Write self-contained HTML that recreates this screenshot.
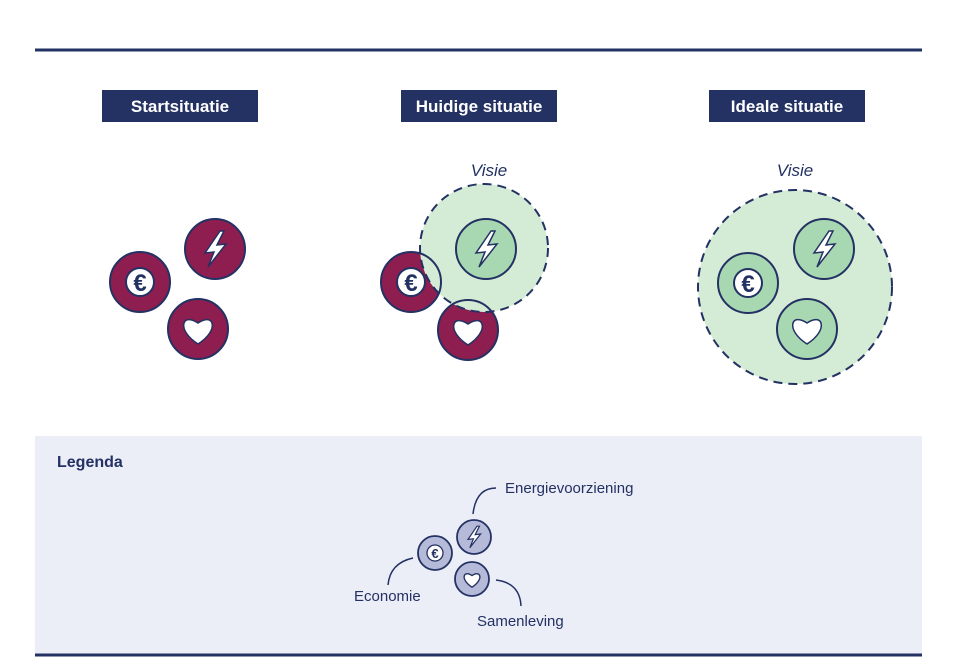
<!DOCTYPE html>
<html><head><meta charset="utf-8"><style>
body{margin:0;background:#fff;}
svg{display:block;font-family:"Liberation Sans",sans-serif;}
</style></head><body>
<svg width="956" height="670" viewBox="0 0 956 670">
<defs>
<path id="bolt" d="M5,-18 L-10,4 L-1,3 L-7,18 L11,-5 L2,-4 L9,-18 Z"/>
<path id="heart" d="M0,13 C-22,-1 -16,-19 0,-8 C16,-19 22,-1 0,13 Z"/>
</defs>
<line x1="35" y1="50" x2="922" y2="50" stroke="#233163" stroke-width="3"/>
<rect x="35" y="436" width="887" height="219" fill="#ebedf7"/>
<line x1="35" y1="655" x2="922" y2="655" stroke="#233163" stroke-width="3"/>

<g font-weight="bold" font-size="17" fill="#fff" text-anchor="middle">
<rect x="102" y="90" width="156" height="32" fill="#233163"/>
<text x="180" y="112">Startsituatie</text>
<rect x="401" y="90" width="156" height="32" fill="#233163"/>
<text x="479" y="112">Huidige situatie</text>
<rect x="709" y="90" width="156" height="32" fill="#233163"/>
<text x="787" y="112">Ideale situatie</text>
</g>
<g font-style="italic" font-size="17" fill="#233163" text-anchor="middle">
<text x="489" y="176">Visie</text>
<text x="795" y="176">Visie</text>
</g>

<!-- Start -->
<g stroke="#233163" stroke-width="2">
<circle cx="140" cy="282" r="30" fill="#8e1e4f"/>
<circle cx="215" cy="249" r="30" fill="#8e1e4f"/>
<circle cx="198" cy="329" r="30" fill="#8e1e4f"/>
<circle cx="140" cy="282" r="14" fill="#fff"/>
<use href="#bolt" transform="translate(215,249)" fill="#fff" stroke-width="1.5"/>
<use href="#heart" transform="translate(198,331)" fill="#fff" stroke-width="1.5"/>
</g>
<text x="140" y="291" font-size="24" font-weight="bold" fill="#233163" text-anchor="middle">€</text>

<!-- Huidige -->
<circle cx="411" cy="282" r="30" fill="#8e1e4f"/>
<circle cx="468" cy="330" r="30" fill="#8e1e4f"/>
<circle cx="484" cy="248" r="64" fill="#d4ecd6"/>
<g stroke="#233163" stroke-width="2" fill="none">
<circle cx="411" cy="282" r="30"/>
<circle cx="468" cy="330" r="30"/>
<circle cx="486" cy="249" r="30" fill="#a8d8b2"/>
<circle cx="411" cy="282" r="14" fill="#fff"/>
<use href="#bolt" transform="translate(486,249)" fill="#fff" stroke-width="1.5"/>
<use href="#heart" transform="translate(468,332)" fill="#fff" stroke-width="1.5"/>
<circle cx="484" cy="248" r="64" stroke-dasharray="9 6"/>
</g>
<text x="411" y="291" font-size="24" font-weight="bold" fill="#233163" text-anchor="middle">€</text>

<!-- Ideale -->
<g stroke="#233163" stroke-width="2">
<circle cx="795" cy="287" r="97" fill="#d4ecd6" stroke-dasharray="9 6"/>
<circle cx="748" cy="283" r="30" fill="#a8d8b2"/>
<circle cx="824" cy="249" r="30" fill="#a8d8b2"/>
<circle cx="807" cy="329" r="30" fill="#a8d8b2"/>
<circle cx="748" cy="283" r="14" fill="#fff"/>
<use href="#bolt" transform="translate(824,249)" fill="#fff" stroke-width="1.5"/>
<use href="#heart" transform="translate(807,331)" fill="#fff" stroke-width="1.5"/>
</g>
<text x="748" y="292" font-size="24" font-weight="bold" fill="#233163" text-anchor="middle">€</text>

<!-- Legend -->
<text x="57" y="467" font-size="16" font-weight="bold" fill="#233163">Legenda</text>
<g stroke="#233163" stroke-width="1.8">
<circle cx="435" cy="553" r="17" fill="#b6bad9"/>
<circle cx="474" cy="537" r="17" fill="#b6bad9"/>
<circle cx="472" cy="579" r="17" fill="#b6bad9"/>
<circle cx="435" cy="553" r="8" fill="#fff" stroke-width="1.3"/>
<use href="#bolt" transform="translate(474,537) scale(0.6)" fill="#fff" stroke-width="2"/>
<use href="#heart" transform="translate(472,580) scale(0.55)" fill="#fff" stroke-width="2.5"/>
</g>
<text x="435" y="558" font-size="13" font-weight="bold" fill="#233163" text-anchor="middle">€</text>
<g fill="none" stroke="#233163" stroke-width="1.5">
<path d="M473,514 Q476,488 496,488"/>
<path d="M413,558 Q390,563 388,585"/>
<path d="M496,580 Q520,583 521,606"/>
</g>
<g font-size="15" fill="#233163">
<text x="505" y="493">Energievoorziening</text>
<text x="354" y="601">Economie</text>
<text x="477" y="626">Samenleving</text>
</g>
</svg>
</body></html>
